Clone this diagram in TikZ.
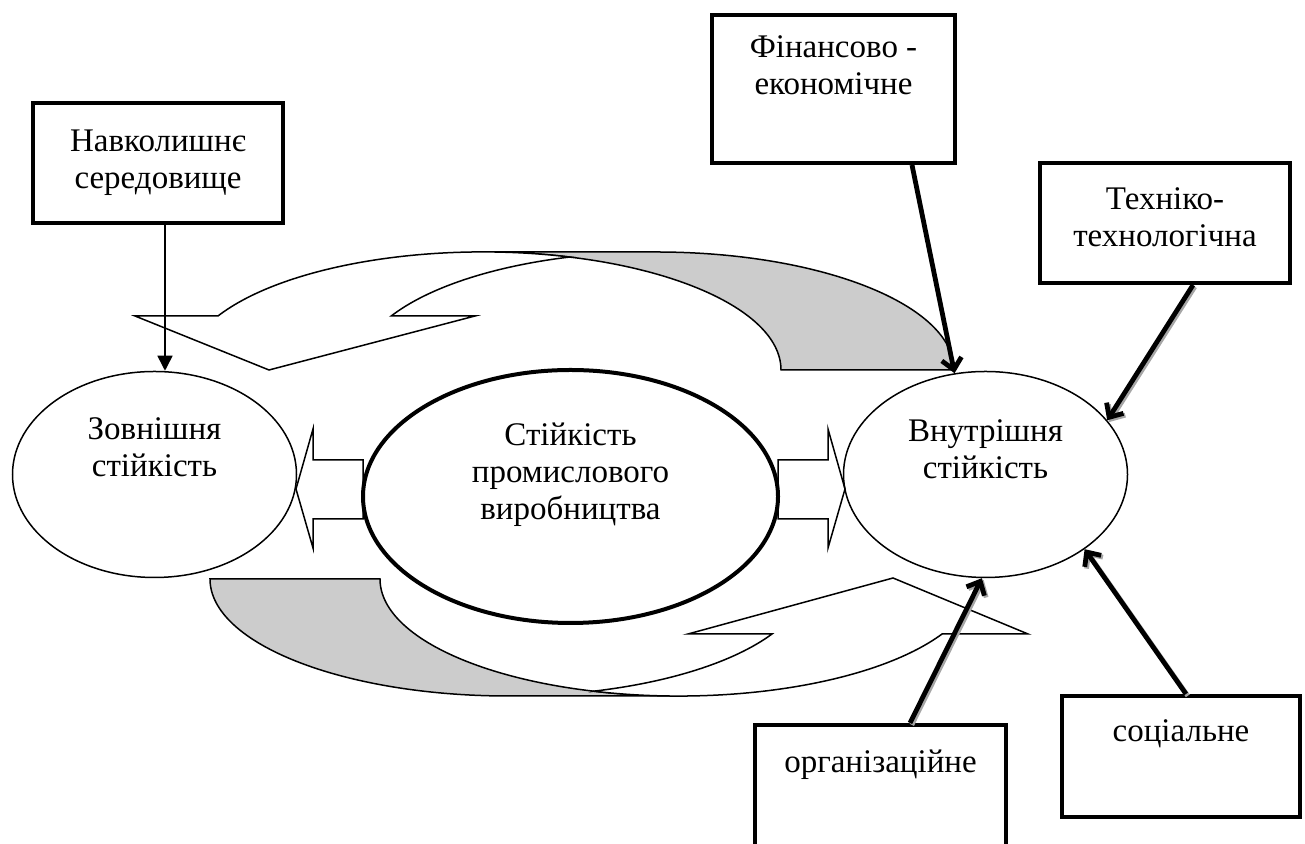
\documentclass[tikz,border=0pt]{standalone}
\usepackage{fontspec}
\setmainfont{Liberation Serif}
\usetikzlibrary{arrows.meta, positioning, shapes.geometric}
\tikzset{
  factbox/.style  = {draw, line width=2pt, minimum width=125pt,
                     minimum height=60pt, inner sep=0pt},
  factlbl/.style  = {font=\fontsize{16.5}{18.5}\selectfont, align=center,
                     inner sep=0pt},
  stabell/.style  = {ellipse, draw, line width=0.75pt, minimum width=142pt,
                     minimum height=103pt, inner sep=0pt},
  coreell/.style  = {stabell, line width=2pt, minimum width=207.5pt,
                     minimum height=126.5pt},
  stablbl/.style  = {factlbl},
  blockarr/.style = {draw, fill=white, line width=0.75pt, line join=miter},
  ribbonbk/.style = {draw, fill=black!20, line width=0.75pt},
  ribbonfr/.style = {draw, fill=white, line width=0.75pt},
  envarr/.style   = {draw, line width=0.75pt,
                     -{Triangle[length=7.5pt, width=7.5pt]}},
  factarr/.style  = {draw, line width=2.4pt,
                     -{Straight Barb[length=5.5pt, width=10pt]}},
  shadowed/.style = {preaction={draw=black!35, line width=2.4pt,
                     transform canvas={xshift=0.9pt, yshift=-0.9pt}}},
}

\begin{document}
\begin{tikzpicture}[x=0.5pt, y=0.5pt]
  \useasboundingbox (0,0) rectangle (1305,844);
  \clip (0,0) rectangle (1305,844);

  \path[ribbonbk] (483,592) -- (656,592)
        arc[start angle=90, end angle=0, x radius=149pt, y radius=59pt]
        -- (781,474)
        arc[start angle=0, end angle=90, x radius=149pt, y radius=59pt] -- cycle;
  \path[ribbonfr] (218,528)
        arc[start angle=152.8, end angle=73.1, x radius=149pt, y radius=59pt]
        arc[start angle=106.9, end angle=152.8, x radius=149pt, y radius=59pt]
        -- (475,528) -- (269,474) -- (135,528) -- cycle;

  \path[ribbonbk] (210,265)
        arc[start angle=180, end angle=270, x radius=149.25pt, y radius=58.5pt]
        -- (678.5,148)
        arc[start angle=270, end angle=180, x radius=149.25pt, y radius=58.5pt] -- cycle;
  \path[ribbonfr] (593.5,152.8)
        arc[start angle=253.45, end angle=332, x radius=149.25pt, y radius=58.5pt]
        -- (1028,210) -- (893,266) -- (688,210) -- (772,210)
        arc[start angle=332, end angle=286.55, x radius=149.25pt, y radius=58.5pt] -- cycle;

  \path[blockarr] (363,384) -- (313,384) -- (313,415) -- (296,355)
        -- (313,296) -- (313,325) -- (363,325) -- cycle;
  \path[blockarr] (778,384) -- (828,384) -- (828,415) -- (845,355)
        -- (828,296) -- (828,325) -- (778,325) -- cycle;

  \node[stabell] (ext) at (154.5,369.5) {};
  \node[coreell] (core) at (570.5,347.5) {};
  \node[stabell] (int) at (985.5,369.5) {};
  \node[stablbl] (extlbl) at ([yshift=13.5pt]ext.center) {Зовнішня\\стійкість};
  \node[stablbl] (corelbl) at ([yshift=11pt]core.center)
       {Стійкість\\промислового\\виробництва};
  \node[stablbl] (intlbl) at ([yshift=12.75pt]int.center) {Внутрішня\\стійкість};

  \node[factbox] (env) at (158,681) {};
  \node[factlbl, below=14.5pt of env.north] (envlbl) {Навколишнє\\середовище};
  \node[factbox, minimum width=121.5pt, minimum height=74pt] (fin) at (833.5,755) {};
  \node[factlbl, below=11pt of fin.north] (finlbl) {Фінансово -\\економічне};
  \node[factbox] (tech) at (1165,621) {};
  \node[factlbl, below=13pt of tech.north] (techlbl) {Техніко-\\технологічна};
  \node[factbox, minimum width=125.5pt, minimum height=80pt] (org) at (880.5,39) {};
  \node[factlbl, below=13.5pt of org.north] (orglbl) {організаційне};
  \node[factbox, minimum width=119pt, minimum height=60.5pt] (soc) at (1181,87.5) {};
  \node[factlbl, below=12.5pt of soc.north] (soclbl) {соціальне};

  \draw[envarr] ([xshift=3.5pt]env.south) -- ([xshift=3.5pt]env.south |- ext.north);
  \draw[factarr] ([xshift=39.25pt]fin.south) -- (int.107);
  \draw[factarr, shadowed] ([xshift=14pt]tech.south) -- (int.24);
  \draw[factarr, shadowed] ([xshift=14.75pt]org.north) -- (int.268);
  \draw[factarr, shadowed] ([xshift=2.5pt]soc.north) -- (int.323);
\end{tikzpicture}
\end{document}
